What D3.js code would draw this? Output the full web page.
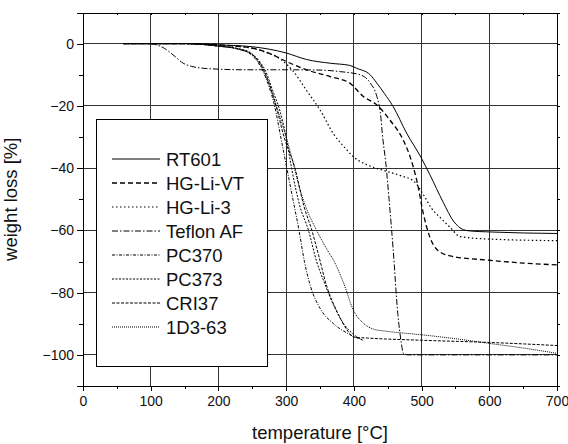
<!DOCTYPE html>
<html>
<head>
<meta charset="utf-8">
<script src="https://cdn.jsdelivr.net/npm/d3@7"></script>
<style>
  html, body { margin: 0; padding: 0; background: #fff; }
  svg { display: block; font-family: Arial, "Liberation Sans", sans-serif; }
</style>
</head>
<body>
<div id="chart"></div>
<script>
// TGA curves, [temperature °C, weight loss %]
const RT601 = [[60,0],[150,0],[200,-0.4],[250,-1],[300,-3],[330,-5.1],[365,-6.3],[394,-7],[404,-7.9],[424,-10],[434,-12.7],[445,-16],[458,-20.2],[478,-28.8],[499,-36.5],[512,-42],[532,-51],[547,-57],[562,-59.8],[572,-60.2],[600,-60.5],[700,-61]];
const HG_LI_VT = [[60,0],[150,0],[200,-0.4],[230,-0.9],[261,-2],[280,-3.6],[301,-5.8],[330,-8.4],[365,-10.6],[394,-12.7],[414,-17],[434,-19.7],[453,-24.5],[473,-31],[483,-36.3],[494,-45],[503,-55],[512,-62],[522,-66],[542,-68.2],[600,-69.6],[650,-70.5],[700,-71.1]];
const HG_LI_3 = [[60,0],[150,0],[200,-0.5],[250,-1.5],[270,-2.8],[286,-4.2],[300,-6.5],[311,-9],[330,-15],[350,-21.3],[370,-29],[389,-34],[400,-36.5],[420,-39],[445,-40.8],[470,-42.5],[489,-44.3],[504,-49],[515,-53],[528,-56],[542,-59],[557,-62],[600,-62.8],[700,-63.3]];
const TEFLON_AF = [[100,0],[110,-0.5],[120,-1.5],[133,-3.6],[148,-6.3],[160,-7.3],[177,-7.9],[200,-8.2],[236,-8.4],[300,-8.4],[350,-8.5],[380,-9],[409,-10],[424,-12.6],[434,-17],[439,-22],[443,-31],[447,-38],[452,-50],[458,-66],[465,-87],[470,-96],[473,-99.5],[480,-100],[700,-100]];
const PC370 = [[60,0],[150,0],[200,-0.8],[230,-1.8],[245,-3],[255,-5],[265,-8.5],[275,-14],[283,-20],[292,-30],[301,-40],[310,-50],[319,-60],[327,-70],[336,-78],[350,-85],[370,-90],[390,-93],[410,-95]];
const PC373 = [[60,0],[150,0],[200,-0.8],[230,-1.6],[248,-3],[260,-5.5],[270,-9],[280,-15],[290,-21],[300,-30],[308,-40],[320,-52],[333,-60],[345,-70],[355,-76],[370,-84],[385,-90],[400,-93.5],[415,-95.5]];
const CRI37 = [[60,0],[150,0],[200,-0.8],[230,-1.8],[250,-3.5],[262,-6.5],[272,-11],[285,-20],[297,-30],[313,-40],[326,-52],[338,-60],[348,-68],[360,-78],[375,-86],[390,-92],[400,-94.3],[420,-94.6],[500,-95.3],[600,-96],[700,-97]];
const D3_63 = [[60,0],[150,0],[200,-0.8],[230,-1.8],[252,-4],[265,-8],[278,-15],[290,-23],[300,-30],[310,-38],[318,-45],[330,-53],[345,-60],[360,-66],[371,-70],[385,-77],[399,-85.5],[415,-90],[430,-91.8],[448,-92.4],[498,-93.5],[550,-94.8],[596,-96.2],[650,-97.8],[700,-99.5]];

const SERIES_NAMES = ["RT601", "HG-Li-VT", "HG-Li-3", "Teflon AF", "PC370", "PC373", "CRI37", "1D3-63"];
const SERIES_DATA = [RT601, HG_LI_VT, HG_LI_3, TEFLON_AF, PC370, PC373, CRI37, D3_63];

const X_TICKS = [0, 100, 200, 300, 400, 500, 600, 700];
const Y_TICKS = [0, -20, -40, -60, -80, -100];

// line styles per series
const STYLES = [
  { dash: null, w: 1 },
  { dash: "5,3", w: 1.3 },
  { dash: "1.5,2.5", w: 1.2 },
  { dash: "6,2,1.5,2", w: 1 },
  { dash: "3,1.5,1,1.5", w: 1 },
  { dash: "2,1.5", w: 1 },
  { dash: "3,1.5", w: 1 },
  { dash: "1,1", w: 1 }
];

const width = 568, height = 444;
const svg = d3.select("#chart").append("svg").attr("width", width).attr("height", height);

const x = d3.scaleLinear().domain([0, 700]).range([83, 557]);
const y = d3.scaleLinear().domain([-110, 10]).range([386, 12.5]);

// grid
svg.append("g").selectAll("line").data(X_TICKS.slice(1, -1)).join("line")
  .attr("x1", d => x(d)).attr("x2", d => x(d))
  .attr("y1", y(10)).attr("y2", y(-110))
  .attr("stroke", "#333").attr("shape-rendering", "crispEdges");
svg.append("g").selectAll("line").data(Y_TICKS).join("line")
  .attr("x1", x(0)).attr("x2", x(700))
  .attr("y1", d => y(d)).attr("y2", d => y(d))
  .attr("stroke", "#333").attr("shape-rendering", "crispEdges");

// axes
const xMinor = d3.range(0, 701, 50);
const yMinor = d3.range(-110, 11, 10);

const bottom = svg.append("g").attr("transform", `translate(0,${y(-110)})`)
  .call(d3.axisBottom(x).tickValues(X_TICKS).tickSize(5).tickPadding(5));
bottom.append("g").call(d3.axisBottom(x).tickValues(xMinor).tickSize(3).tickFormat(""));
const left = svg.append("g").attr("transform", `translate(${x(0)},0)`)
  .call(d3.axisLeft(y).tickValues(Y_TICKS).tickSize(6).tickPadding(3));
left.append("g").call(d3.axisLeft(y).tickValues(yMinor).tickSize(4).tickFormat(""));
svg.append("g").attr("transform", `translate(0,${y(10)})`)
  .call(d3.axisBottom(x).tickValues(xMinor).tickSize(2).tickFormat(""));
svg.append("g").attr("transform", `translate(${x(700)},0)`)
  .call(d3.axisRight(y).tickValues(yMinor).tickSize(3).tickFormat(""));

svg.selectAll(".domain").attr("stroke", "#000").attr("shape-rendering", "crispEdges");
svg.selectAll(".tick line").attr("stroke", "#000").attr("shape-rendering", "crispEdges");
svg.selectAll(".tick text").attr("font-size", 14).attr("fill", "#111")
  .attr("font-family", "Arial, 'Liberation Sans', sans-serif");

// axis titles
svg.append("text").attr("x", (x(0) + x(700)) / 2).attr("y", 439)
  .attr("text-anchor", "middle").attr("font-size", 18.5).attr("fill", "#111")
  .text("temperature [°C]");
svg.append("text").attr("transform", `translate(17,${(y(10) + y(-110)) / 2}) rotate(-90)`)
  .attr("text-anchor", "middle").attr("font-size", 18.5).attr("fill", "#111")
  .text("weight loss [%]");

// legend box (covers grid)
const legend = svg.append("g");
legend.append("rect").attr("x", 96).attr("y", 119).attr("width", 171).attr("height", 247)
  .attr("fill", "#fff").attr("stroke", "#000").attr("shape-rendering", "crispEdges");

// curves
const line = d3.line().x(d => x(d[0])).y(d => y(d[1])).curve(d3.curveMonotoneX);
svg.append("g").selectAll("path").data(SERIES_DATA).join("path")
  .attr("d", line)
  .attr("fill", "none")
  .attr("stroke", "#000")
  .attr("stroke-width", (d, i) => STYLES[i].w)
  .attr("stroke-dasharray", (d, i) => STYLES[i].dash);

// legend entries
const entry = legend.selectAll("g.entry").data(SERIES_NAMES).join("g")
  .attr("class", "entry")
  .attr("transform", (d, i) => `translate(0,${159 + i * 24})`);
entry.append("line").attr("x1", 112).attr("x2", 160).attr("y1", 0).attr("y2", 0)
  .attr("stroke", "#000")
  .attr("stroke-width", (d, i) => STYLES[i].w)
  .attr("stroke-dasharray", (d, i) => STYLES[i].dash);
entry.append("text").attr("x", 166).attr("y", 0).attr("dy", "0.36em")
  .attr("font-size", 18.5).attr("fill", "#111").text(d => d);
</script>
</body>
</html>
